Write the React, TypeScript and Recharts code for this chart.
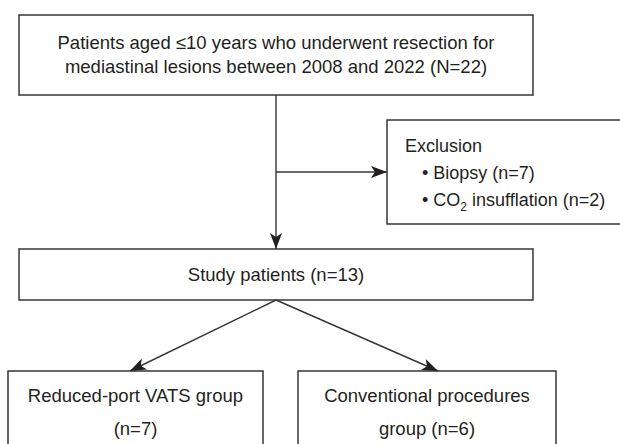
import { ScatterChart, Scatter, XAxis, YAxis, ReferenceArea, ReferenceLine } from "recharts"

// layout units: one unit per pixel, y counted from the top; the drawing runs past the
// 620px frame on the right so the exclusion box is cut off like in the source figure
const boxes = [
  { id: "screened", x1: 19, x2: 533, y1: 15, y2: 95 },
  { id: "excluded", x1: 387, x2: 680, y1: 120, y2: 224 },
  { id: "study", x1: 19, x2: 533, y1: 249, y2: 300 },
  { id: "reducedPort", x1: 8, x2: 263, y1: 371, y2: 480 },
  { id: "conventional", x1: 298, x2: 556, y1: 371, y2: 480 },
]

const connectors = [
  { from: [276, 95], to: [276, 249] },
  { from: [276, 172], to: [387, 172] },
  { from: [276, 300], to: [130, 371] },
  { from: [276, 300], to: [438, 371] },
]

const labels = [
  { x: 276, y: 43, text: "Patients aged ≤10 years who underwent resection for" },
  { x: 276, y: 67, text: "mediastinal lesions between 2008 and 2022 (N=22)" },
  { x: 405, y: 146, text: "Exclusion", left: true },
  { x: 422, y: 173, text: "• Biopsy (n=7)", left: true },
  { x: 422, y: 200, text: "• CO", sub: "2", after: " insufflation (n=2)", left: true },
  { x: 276, y: 275, text: "Study patients (n=13)" },
  { x: 135.5, y: 396, text: "Reduced-port VATS group" },
  { x: 135.5, y: 429, text: "(n=7)" },
  { x: 427, y: 396, text: "Conventional procedures" },
  { x: 427, y: 429, text: "group (n=6)" },
]

const arrowHeads = connectors.map((c) => ({ x: c.to[0], y: c.to[1], fx: c.from[0], fy: c.from[1] }))

const INK = "#231f20"
const LINE = "#363636"

function LabelShape(props: any) {
  const { cx, cy, payload } = props
  return (
    <text
      x={cx}
      y={cy}
      dy="0.34em"
      textAnchor={payload.left ? "start" : "middle"}
      fontFamily="'Liberation Sans', Arial, sans-serif"
      fontSize={payload.left ? 18 : 18.5}
      fill={INK}
    >
      {payload.text}
      {payload.sub && (
        <tspan fontSize={12} dy={5}>
          {payload.sub}
        </tspan>
      )}
      {payload.after && <tspan dy={-5}>{payload.after}</tspan>}
    </text>
  )
}

function ArrowShape(props: any) {
  const { cx, cy, payload } = props
  const angle = (Math.atan2(payload.y - payload.fy, payload.x - payload.fx) * 180) / Math.PI
  return (
    <polygon
      points="0,0 -16,-6 -12,0 -16,6"
      fill={INK}
      transform={`translate(${cx},${cy}) rotate(${angle})`}
    />
  )
}

export default function App() {
  return (
    <div
      style={{ position: "absolute", left: 0, top: 0, width: 620, height: 444, overflow: "hidden", background: "#fff" }}
    >
      <ScatterChart width={700} height={444} margin={{ top: 0, right: 0, bottom: 0, left: 0 }}>
        <XAxis type="number" dataKey="x" domain={[0, 700]} hide />
        <YAxis type="number" dataKey="y" domain={[0, 444]} reversed hide />
        {boxes.map((b) => (
          <ReferenceArea
            key={b.id}
            x1={b.x1}
            x2={b.x2}
            y1={b.y1}
            y2={b.y2}
            fill="#fff"
            fillOpacity={1}
            stroke={LINE}
            strokeWidth={1.5}
            ifOverflow="hidden"
          />
        ))}
        {connectors.map((c, i) => (
          <ReferenceLine
            key={i}
            segment={[
              { x: c.from[0], y: c.from[1] },
              { x: c.to[0], y: c.to[1] },
            ]}
            stroke={LINE}
            strokeWidth={1.4}
            ifOverflow="visible"
          />
        ))}
        <Scatter data={arrowHeads} shape={ArrowShape} isAnimationActive={false} />
        <Scatter data={labels} shape={LabelShape} isAnimationActive={false} />
      </ScatterChart>
    </div>
  )
}
